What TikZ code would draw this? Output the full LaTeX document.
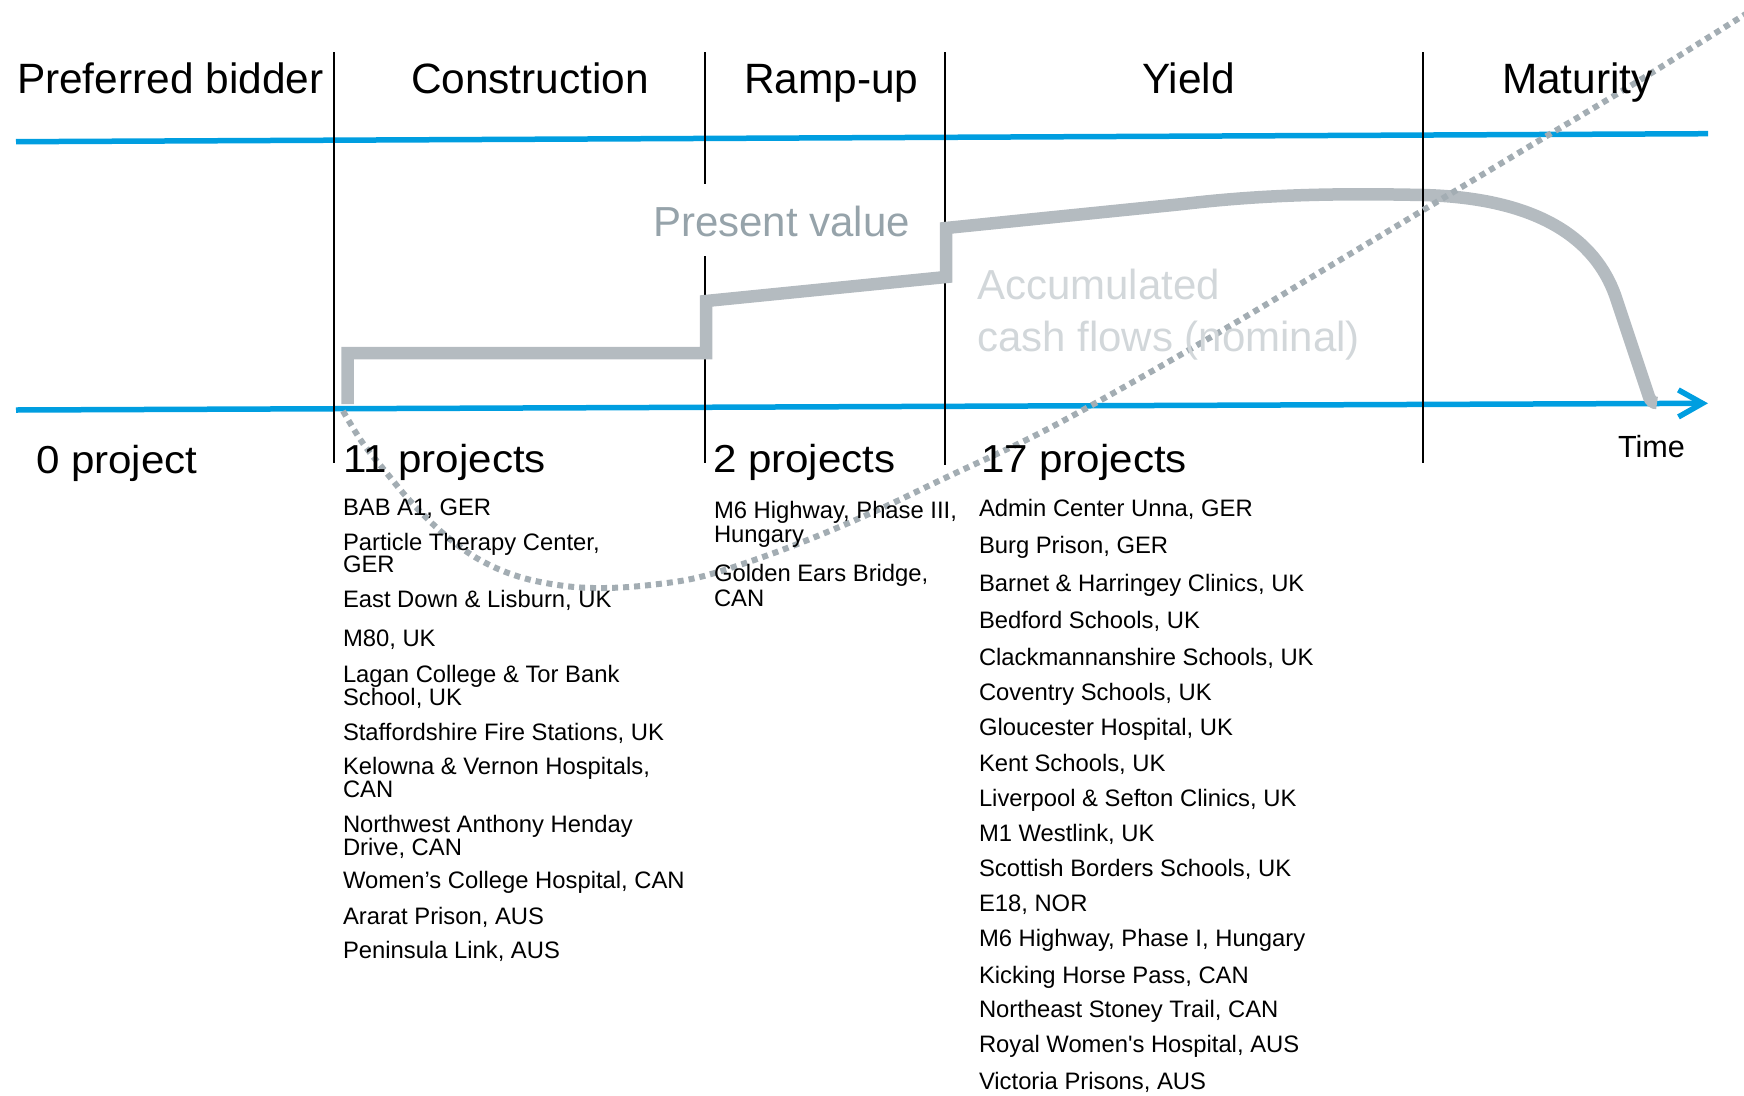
\documentclass[tikz,border=0pt]{standalone}
\usepackage{fontspec}
\setmainfont{Liberation Sans}
\newfontfamily\widefont[FakeStretch=1.08]{Liberation Sans}
\usetikzlibrary{arrows.meta}
\definecolor{axisblue}{RGB}{0,158,224}
\definecolor{pvgray}{RGB}{180,187,192}
\definecolor{dotgray}{RGB}{163,173,179}
\definecolor{pvtext}{RGB}{150,163,170}
\definecolor{acctext}{RGB}{210,215,218}
\tikzset{
  txt/.style={inner sep=0pt, outer sep=0pt, anchor=base west},
  header/.style={txt, font=\fontsize{42.4}{50}\selectfont},
  countlbl/.style={txt, font=\widefont\fontsize{39}{46}\selectfont},
  listtxt/.style={txt, font=\fontsize{23.8}{24}\selectfont},
  axisline/.style={draw=axisblue, line width=5.5pt},
  phaseline/.style={draw=black, line width=2.5pt},
  pvline/.style={draw=pvgray, line width=12.5pt, line join=miter},
  cashline/.style={draw=dotgray, line width=6pt, dash pattern=on 6pt off 5pt},
}
\begin{document}
\begin{tikzpicture}[x=1pt, y=-1pt]
\useasboundingbox (0,0) rectangle (1744,1095);

% axes
\coordinate (tl) at (16,141.7);
\coordinate (tr) at (1708,133.7);
\coordinate (bl) at (16,410);
\coordinate (br) at (1708,403.3);
\draw[axisline] (tl) -- (tr);
\draw[axisline, -{Straight Barb[length=24pt, width=27pt]}] (bl) -- (br);

% phase separators
\coordinate (s1t) at (334,52);  \coordinate (s1b) at (334,463);
\coordinate (s2t) at (705,52);  \coordinate (s2m) at (705,184);
\coordinate (s2n) at (705,256); \coordinate (s2b) at (705,463);
\coordinate (s3t) at (945,52);  \coordinate (s3b) at (945,465);
\coordinate (s4t) at (1423,52); \coordinate (s4b) at (1423,463);
\draw[phaseline] (s1t) -- (s1b);
\draw[phaseline] (s2t) -- (s2m);
\draw[phaseline] (s2n) -- (s2b);
\draw[phaseline] (s3t) -- (s3b);

% present value curve
\coordinate (pv0) at (347.5,404);
\coordinate (pv1) at (347.5,353);
\coordinate (pv2) at (706,353);
\coordinate (pv3) at (706,301);
\coordinate (pv4) at (946,277);
\coordinate (pv5) at (946,228);
\coordinate (pv6) at (1183,204);
\coordinate (pv7) at (1423,195);
\coordinate (pv8) at (1615,295);
\coordinate (pv9) at (1649,397);
\coordinate (pv10) at (1657,403);
\draw[pvline] (pv0) -- (pv1) -- (pv2) -- (pv3) -- (pv4) -- (pv5) -- (pv6)
  .. controls (1260,195) and (1330,193) .. (pv7)
  .. controls (1540,198) and (1595,240) .. (pv8)
  -- (pv9) .. controls (1651,401) and (1653,403) .. (pv10);

\draw[phaseline] (s4t) -- (s4b);

% accumulated cash flows (dotted)
\draw[cashline] plot[smooth, tension=0.6] coordinates {
  (343,411) (362,442) (385,471) (412,503) (445,535) (480,560) (520,577)
  (565,586) (605,588) (650,585) (700,577) (760,558) (820,535) (880,509)
  (945,478) (1040,433) (1140,378) (1240,320) (1340,260) (1440,200)
  (1540,140) (1640,80) (1760,5)};

% headers
\node[header] (h1) at (17,93) {Preferred bidder};
\node[header] (h2) at (411,93) {Construction};
\node[header] (h3) at (744,93) {Ramp-up};
\node[header] (h4) at (1142,93) {Yield};
\node[header] (h5) at (1502,93) {Maturity};

% curve labels
\node[txt, font=\fontsize{42}{50}\selectfont, text=pvtext] (pvlbl) at (653,236) {Present value};
\node[txt, font=\fontsize{42}{50}\selectfont, text=acctext] (acc1) at (977,299) {Accumulated};
\node[txt, font=\fontsize{42}{50}\selectfont, text=acctext] (acc2) at (977,351) {cash flows (nominal)};

\node[txt, font=\fontsize{30.6}{36}\selectfont] (time) at (1618,457) {Time};

% counts
\node[countlbl] (c0) at (36,473) {0 project};
\node[countlbl] (c1) at (343,472) {11 projects};
\node[countlbl] (c2) at (713,472) {2 projects};
\node[countlbl] (c3) at (981,472) {17 projects};

% lists
\foreach \y/\t [count=\i] in {
  515.7/{BAB A1, GER},
  550.7/{Particle Therapy Center,},
  572.9/{GER},
  607.5/{East Down \& Lisburn, UK},
  646/{M80, UK},
  682.9/{Lagan College \& Tor Bank},
  705.7/{School, UK},
  740.7/{Staffordshire Fire Stations, UK},
  774.6/{Kelowna \& Vernon Hospitals,},
  797/{CAN},
  832.9/{Northwest Anthony Henday},
  855/{Drive, CAN},
  888.9/{Women’s College Hospital, CAN},
  924.6/{Ararat Prison, AUS},
  958.6/{Peninsula Link, AUS}}
  \node[listtxt] (a\i) at (343,\y) {\t};

\foreach \y/\t [count=\i] in {
  518.3/{M6 Highway, Phase III,},
  542.5/{Hungary},
  581.7/{Golden Ears Bridge,},
  606/{CAN}}
  \node[listtxt] (b\i) at (714,\y) {\t};

\foreach \y/\t [count=\i] in {
  516/{Admin Center Unna, GER},
  553/{Burg Prison, GER},
  591/{Barnet \& Harringey Clinics, UK},
  628/{Bedford Schools, UK},
  665.4/{Clackmannanshire Schools, UK},
  700.1/{Coventry Schools, UK},
  735.3/{Gloucester Hospital, UK},
  771.4/{Kent Schools, UK},
  806.6/{Liverpool \& Sefton Clinics, UK},
  841.4/{M1 Westlink, UK},
  876.6/{Scottish Borders Schools, UK},
  911.3/{E18, NOR},
  946.5/{M6 Highway, Phase I, Hungary},
  983.4/{Kicking Horse Pass, CAN},
  1017.4/{Northeast Stoney Trail, CAN},
  1052.6/{Royal Women\textquotesingle s Hospital, AUS},
  1089.5/{Victoria Prisons, AUS}}
  \node[listtxt] (d\i) at (979,\y) {\t};
\end{tikzpicture}
\end{document}
